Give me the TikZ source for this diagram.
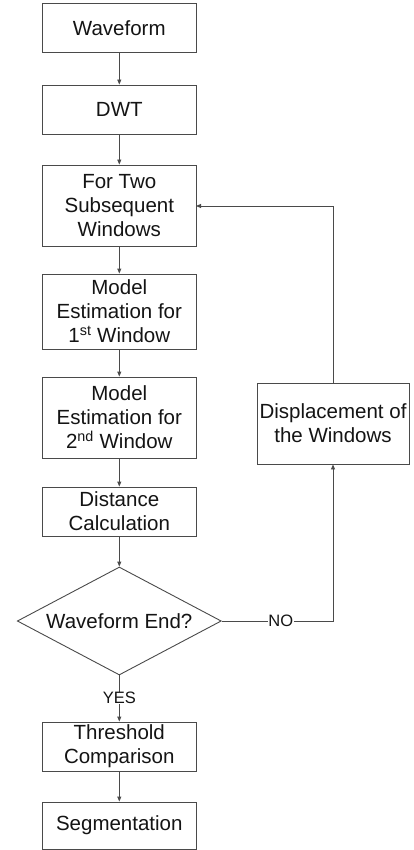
\documentclass[tikz,border=0pt]{standalone}
\usepackage{fontspec}
\setmainfont{Liberation Sans}
\usetikzlibrary{shapes.geometric,arrows.meta}
\definecolor{linegray}{HTML}{4A4A4A}
\definecolor{txt}{HTML}{141414}
\begin{document}
\begin{tikzpicture}[x=1pt,y=-1pt,
  every node/.style={text=txt, font=\fontsize{20.5}{24}\selectfont},
  procbox/.style={draw=linegray, line width=0.9pt, rectangle, inner sep=0pt,
     minimum width=153.5pt, align=center},
  decbox/.style={draw=linegray, line width=0.9pt, diamond, inner sep=0pt,
     minimum width=204pt, minimum height=108pt, shape aspect=1.89},
  lbl/.style={font=\fontsize{16.5}{18}\selectfont, fill=white, inner sep=0.5pt},
  flow/.style={draw=linegray, line width=0.9pt, -{Triangle[length=5pt,width=4pt]}}]
\useasboundingbox (0,0) rectangle (414,850);
\fill[white] (0,0) rectangle (414,850);
\node[procbox, minimum height=49pt] (wave) at (119.3,27.7) {Waveform};
\node[procbox, minimum height=49pt] (dwt) at (119.3,109.5) {DWT};
\node[procbox, minimum height=81pt] (two) at (119.3,205.5) {For Two\\Subsequent\\Windows};
\node[procbox, minimum height=75pt] (m1) at (119.3,311.5) {Model\\Estimation for\\1\textsuperscript{st} Window};
\node[procbox, minimum height=81pt] (m2) at (119.3,417.5) {Model\\Estimation for\\2\textsuperscript{nd} Window};
\node[procbox, minimum height=49pt] (dist) at (119.3,511.5) {Distance\\Calculation};
\node[decbox] (end) at (119.3,621) {Waveform End?};
\node[procbox, minimum height=49pt] (thr) at (119.3,746.5) {Threshold\\Comparison};
\node[procbox, minimum height=47pt] (seg) at (119.3,825.5) {Segmentation};
\node[procbox, minimum width=152pt, minimum height=81pt] (disp) at (333,423.5) {Displacement of\\the Windows};
\coordinate (c1) at (333,621);
\coordinate (c2) at (333,206);
\coordinate (two-r) at (196,206);
\draw[flow] (wave) -- (dwt);
\draw[flow] (dwt) -- (two);
\draw[flow] (two) -- (m1);
\draw[flow] (m1) -- (m2);
\draw[flow] (m2) -- (dist);
\draw[flow] (dist) -- (end);
\draw[flow] (end.south) -- node[lbl, pos=0.49] (yes) {YES} (thr.north);
\draw[flow] (thr) -- (seg);
\draw[flow] (end.east) -- node[lbl, pos=0.53] (no) {NO} (c1) -- (disp.south);
\draw[flow] (disp.north) -- (c2) -- (two-r);
\end{tikzpicture}
\end{document}
